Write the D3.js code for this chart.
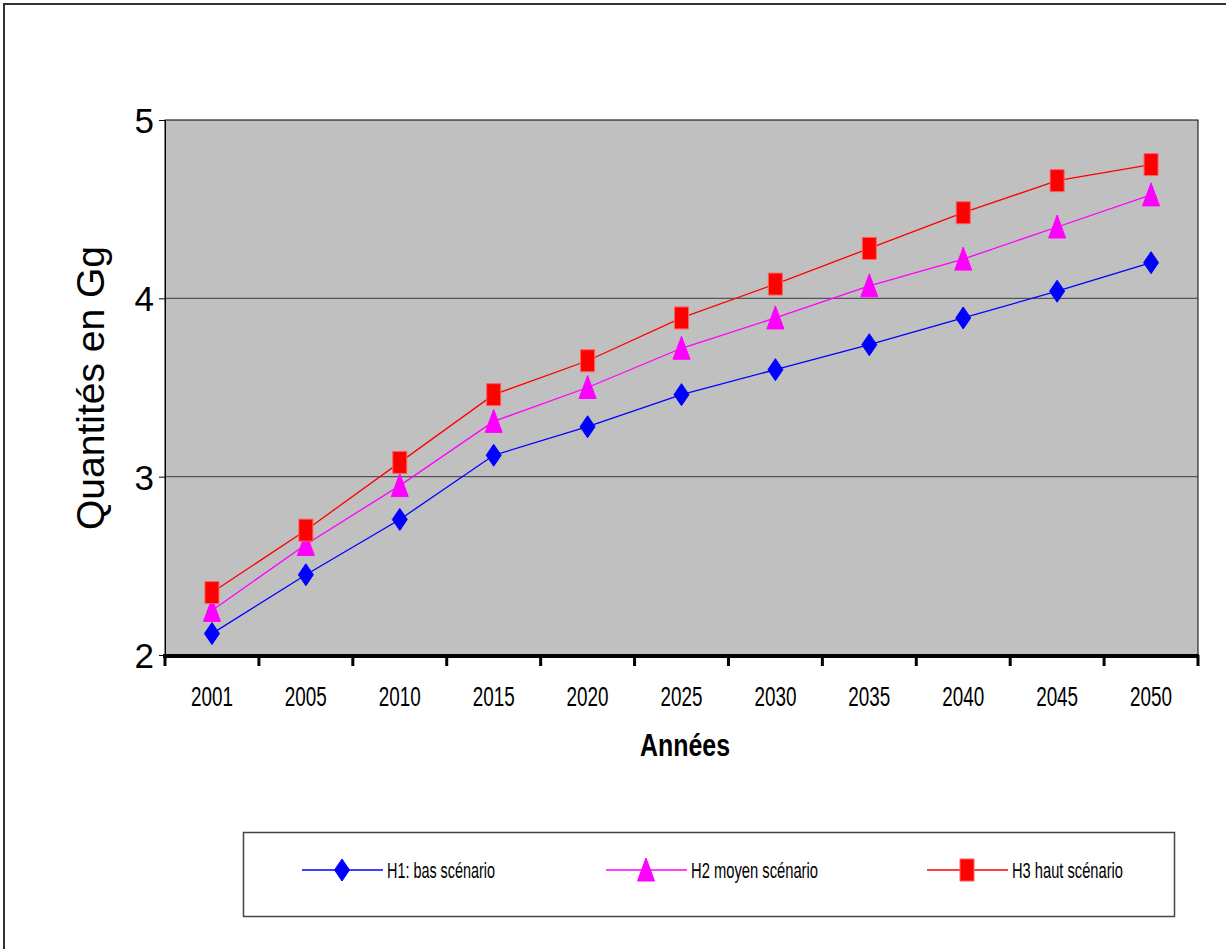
<!DOCTYPE html>
<html>
<head>
<meta charset="utf-8">
<script src="https://cdn.jsdelivr.net/npm/d3@7"></script>
<style>
  body { margin: 0; background: #fff; }
  text { font-family: "Liberation Sans", Arial, sans-serif; }
</style>
</head>
<body>
<svg id="chart" width="1226" height="949"></svg>
<script>
// data
const years = ["2001", "2005", "2010", "2015", "2020", "2025", "2030", "2035", "2040", "2045", "2050"];
const h1Values = [2.12, 2.45, 2.76, 3.12, 3.28, 3.46, 3.60, 3.74, 3.89, 4.04, 4.20];
const h2Values = [2.25, 2.62, 2.95, 3.31, 3.50, 3.72, 3.89, 4.07, 4.22, 4.40, 4.58];
const h3Values = [2.35, 2.70, 3.08, 3.46, 3.65, 3.89, 4.08, 4.28, 4.48, 4.66, 4.75];
const seriesNames = ["H1: bas scénario", "H2 moyen scénario", "H3 haut scénario"];
const yTicks = [2, 3, 4, 5];

const series = [
  { name: seriesNames[0], values: h1Values, color: "#0000ff", marker: "diamond", textW: 108 },
  { name: seriesNames[1], values: h2Values, color: "#ff00ff", marker: "triangle", textW: 127 },
  { name: seriesNames[2], values: h3Values, color: "#ff0000", marker: "square", textW: 111 }
];

const svg = d3.select("#chart");

// outer frame
svg.append("rect")
   .attr("x", 4).attr("y", 4)
   .attr("width", 1240).attr("height", 980)
   .attr("fill", "none").attr("stroke", "#333").attr("stroke-width", 2);

const plotLeft = 165, plotRight = 1198, plotTop = 120, plotBottom = 655;

const x = d3.scaleBand().domain(years).range([plotLeft, plotRight]).padding(0);
const y = d3.scaleLinear().domain([2, 5]).range([plotBottom, plotTop]);

// plot area
svg.append("rect")
   .attr("x", plotLeft).attr("y", plotTop)
   .attr("width", plotRight - plotLeft).attr("height", plotBottom - plotTop)
   .attr("fill", "#c0c0c0").attr("stroke", "#000").attr("stroke-width", 1);

// gridlines
svg.append("g")
   .selectAll("line")
   .data(yTicks.filter(d => d > 2 && d < 5))
   .enter().append("line")
   .attr("x1", plotLeft).attr("x2", plotRight)
   .attr("y1", d => y(d)).attr("y2", d => y(d))
   .attr("stroke", "#555").attr("stroke-width", 1.2);

// y axis
const yAxis = svg.append("g")
   .attr("transform", `translate(${plotLeft},0)`)
   .call(d3.axisLeft(y).tickValues(yTicks).tickSize(6).tickPadding(5).tickFormat(d3.format("d")));
yAxis.select(".domain").attr("stroke", "#000");
yAxis.selectAll(".tick line").attr("stroke", "#000");
yAxis.selectAll("text")
   .attr("font-size", 35).attr("fill", "#000")
   .attr("font-family", "Liberation Sans, Arial, sans-serif")
   .attr("dy", "0.36em");

// x axis: thick line with ticks at category boundaries
svg.append("line")
   .attr("x1", plotLeft - 2).attr("x2", plotRight + 1)
   .attr("y1", plotBottom + 1).attr("y2", plotBottom + 1)
   .attr("stroke", "#000").attr("stroke-width", 4);

const boundaries = years.map(d => x(d)).concat([x(years[years.length - 1]) + x.bandwidth()]);
svg.append("g")
   .selectAll("line")
   .data(boundaries)
   .enter().append("line")
   .attr("x1", d => d).attr("x2", d => d)
   .attr("y1", plotBottom).attr("y2", plotBottom + 11)
   .attr("stroke", "#000").attr("stroke-width", 3);

svg.append("g")
   .selectAll("text")
   .data(years)
   .enter().append("text")
   .attr("x", d => x(d) + x.bandwidth() / 2)
   .attr("y", 706)
   .attr("text-anchor", "middle")
   .attr("font-size", 27)
   .attr("textLength", 42)
   .attr("lengthAdjust", "spacingAndGlyphs")
   .text(d => d);

// axis titles
svg.append("text")
   .attr("x", 685).attr("y", 756)
   .attr("text-anchor", "middle")
   .attr("font-size", 31).attr("font-weight", "bold")
   .attr("textLength", 90).attr("lengthAdjust", "spacingAndGlyphs")
   .text("Années");

svg.append("text")
   .attr("transform", "translate(104,388) rotate(-90)")
   .attr("text-anchor", "middle")
   .attr("font-size", 39)
   .text("Quantités en Gg");

// marker shapes
function markerPath(type) {
  if (type === "diamond") return "M0,-11L7.5,0L0,11L-7.5,0Z";
  if (type === "triangle") return "M0,-12L8.5,11L-8.5,11Z";
  return "M-7,-11L7,-11L7,11L-7,11Z";
}

const line = d3.line()
   .x((d, i) => x(years[i]) + x.bandwidth() / 2)
   .y(d => y(d));

series.forEach(s => {
  svg.append("path")
     .datum(s.values)
     .attr("d", line)
     .attr("fill", "none")
     .attr("stroke", s.color)
     .attr("stroke-width", 1.3);

  svg.append("g")
     .selectAll("path")
     .data(s.values)
     .enter().append("path")
     .attr("transform", (d, i) => `translate(${x(years[i]) + x.bandwidth() / 2},${y(d)})`)
     .attr("d", markerPath(s.marker))
     .attr("fill", s.color)
     .attr("stroke", s.marker === "square" ? "#ff6060" : s.color)
     .attr("stroke-width", 1);
});

// legend
svg.append("rect")
   .attr("x", 243.5).attr("y", 832.5)
   .attr("width", 931).attr("height", 84)
   .attr("fill", "#fff").attr("stroke", "#444").attr("stroke-width", 1.5);

const legendX = [342, 646, 967];
const legendY = 870;
const legend = svg.append("g")
   .selectAll("g")
   .data(series)
   .enter().append("g")
   .attr("transform", (d, i) => `translate(${legendX[i]},${legendY})`);

legend.append("line")
   .attr("x1", -40).attr("x2", 41)
   .attr("y1", 0).attr("y2", 0)
   .attr("stroke", d => d.color).attr("stroke-width", 1.3);

legend.append("path")
   .attr("d", d => markerPath(d.marker))
   .attr("fill", d => d.color)
   .attr("stroke", d => d.marker === "square" ? "#ff6060" : d.color);

legend.append("text")
   .attr("x", 45).attr("y", 8)
   .attr("font-size", 22)
   .attr("textLength", d => d.textW)
   .attr("lengthAdjust", "spacingAndGlyphs")
   .text(d => d.name);
</script>
</body>
</html>
